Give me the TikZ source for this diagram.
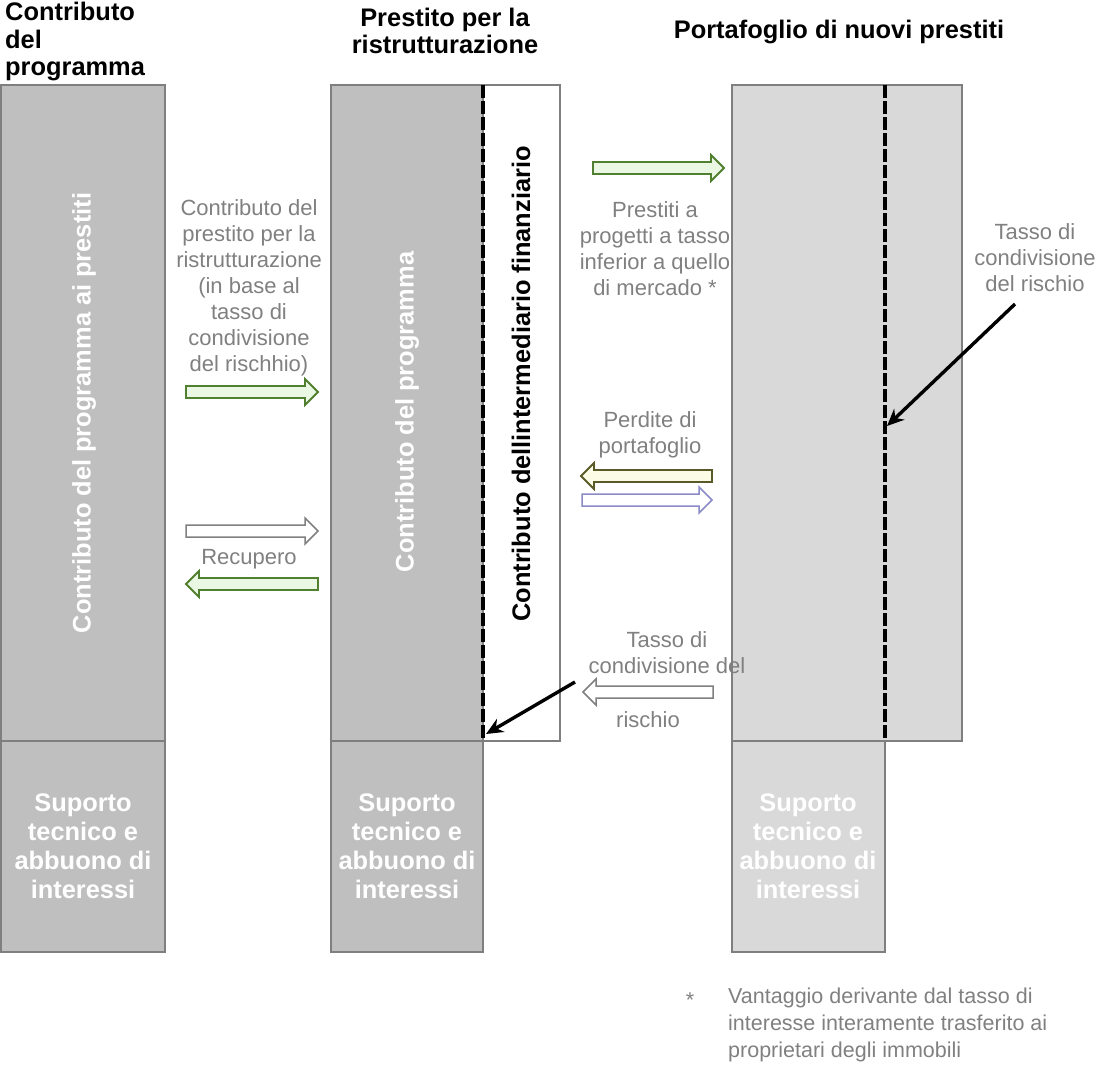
\documentclass[tikz,border=0pt]{standalone}
\usepackage{fontspec}
\setmainfont{Liberation Sans}
\usetikzlibrary{arrows.meta}
\definecolor{darkfill}{HTML}{BFBFBF}
\definecolor{lightfill}{HTML}{D9D9D9}
\definecolor{boxline}{HTML}{7F7F7F}
\definecolor{lblgray}{HTML}{808080}
\definecolor{arrgreen}{HTML}{4F7F2F}
\definecolor{arrgreenfill}{HTML}{EAF7E2}
\definecolor{arrolive}{HTML}{5A5A28}
\definecolor{arrolivefill}{HTML}{FBFBE6}
\definecolor{arrblue}{HTML}{8A8AC8}
\tikzset{
  colbox/.style={draw=boxline, line width=1.5pt, inner sep=0pt, outer sep=0pt, anchor=north west},
  darkbox/.style={colbox, fill=darkfill},
  lightbox/.style={colbox, fill=lightfill},
  whitebox/.style={colbox, fill=white},
  divider/.style={black, line width=3.2pt, dash pattern=on 13pt off 3pt},
  graylbl/.style={text=lblgray, align=center, inner sep=0pt, font=\fontsize{22}{26}\selectfont},
  titlelbl/.style={text=black, inner sep=0pt, font=\fontsize{25.4}{27.5}\selectfont\bfseries},
  vertlbl/.style={rotate=90, inner sep=0pt, font=\fontsize{25.4}{29}\selectfont\bfseries},
  baselbl/.style={text=white, align=center, inner sep=0pt, font=\fontsize{25.4}{29}\selectfont\bfseries},
  notelbl/.style={text=lblgray, align=left, inner sep=0pt, font=\fontsize{21.5}{27}\selectfont},
  greenarr/.style={draw=arrgreen, fill=arrgreenfill, line width=1.8pt, line join=miter},
  olivearr/.style={draw=arrolive, fill=arrolivefill, line width=1.8pt, line join=miter},
  bluearr/.style={draw=arrblue, fill=white, line width=1.5pt, line join=miter},
  whitearr/.style={draw=lblgray, fill=white, line width=1.5pt, line join=miter},
  pointer/.style={black, line width=3.4pt, -{Stealth[length=17pt,width=15pt]}},
}
% right-pointing block arrow: #1 style, #2 x start, #3 x end, #4 y
\newcommand\blockR[4]{\draw[#1] (#2,#4-6) -- (#3-13,#4-6) -- (#3-13,#4-13) -- (#3,#4) -- (#3-13,#4+13) -- (#3-13,#4+6) -- (#2,#4+6) -- cycle;}
% left-pointing block arrow: #1 style, #2 x tip, #3 x end, #4 y
\newcommand\blockL[4]{\draw[#1] (#3,#4-6) -- (#2+13,#4-6) -- (#2+13,#4-13) -- (#2,#4) -- (#2+13,#4+13) -- (#2+13,#4+6) -- (#3,#4+6) -- cycle;}
\begin{document}
\begin{tikzpicture}[x=1pt,y=-1pt]
\useasboundingbox (0,0) rectangle (1103,1065);

% column 1
\node[darkbox, minimum width=164pt, minimum height=656pt] (c1top) at (1,85) {};
\node[darkbox, minimum width=164pt, minimum height=211pt] (c1bot) at (1,741) {};
\node[vertlbl, text=white] (c1txt) at (84,413) {Contributo del programma ai prestiti};
\node[baselbl] (c1base) at (83,846) {Suporto\\tecnico e\\abbuono di\\interessi};

% column 2
\node[darkbox, minimum width=152pt, minimum height=656pt] (c2top) at (331,85) {};
\node[whitebox, minimum width=77pt, minimum height=656pt] (c2int) at (483,85) {};
\node[darkbox, minimum width=152pt, minimum height=211pt] (c2bot) at (331,741) {};
\draw[divider] (c2int.north west) -- (c2int.south west);
\node[vertlbl, text=white] (c2txt) at (407,412) {Contributo del programma};
\node[vertlbl, text=black] (c2int txt) at (521,384) {Contributo dellintermediario finanziario};
\node[baselbl] (c2base) at (407,846) {Suporto\\tecnico e\\abbuono di\\interessi};

% column 3
\node[lightbox, minimum width=230pt, minimum height=656pt] (c3top) at (732,85) {};
\node[lightbox, minimum width=153pt, minimum height=211pt] (c3bot) at (732,741) {};
\draw[divider] (885,85) coordinate (d3a) -- (885,741) coordinate (d3b);
\node[baselbl] (c3base) at (808,846) {Suporto\\tecnico e\\abbuono di\\interessi};

% titles
\node[titlelbl, align=left, anchor=north west] (t1) at (5,2) {Contributo\\del\\programma};
\node[titlelbl, align=center] (t2) at (445,31) {Prestito per la\\ristrutturazione};
\node[titlelbl] (t3) at (839,32) {Portafoglio di nuovi prestiti};

% labels between columns 1 and 2
\node[graylbl] (l1) at (249,288) {Contributo del\\prestito per la\\ristrutturazione\\(in base al\\tasso di\\condivisione\\del rischhio)};
\node[graylbl] (l2) at (249,559) {Recupero};
\blockR{greenarr}{186}{318}{392}
\blockR{whitearr}{186}{318}{531}
\blockL{greenarr}{186}{318}{584}

% labels between columns 2 and 3
\blockR{greenarr}{593}{724}{168}
\node[graylbl] (l3) at (655,249) {Prestiti a\\progetti a tasso\\inferior a quello\\di mercado *};
\node[graylbl] (l4) at (650,435) {Perdite di\\portafoglio};
\blockL{olivearr}{581}{712}{476}
\blockR{bluearr}{582}{712}{500}
\node[graylbl] (l5) at (667,653) {Tasso di\\condivisione del};
\blockL{whitearr}{583}{713}{692}
\node[graylbl] (l6) at (648,720) {rischio};
\coordinate (p1s) at (575,682);
\coordinate (p1e) at (486,734);
\draw[pointer] (p1s) -- (p1e);

% right label
\node[graylbl] (l7) at (1035,258) {Tasso di\\condivisione\\del rischio};
\coordinate (p2s) at (1015,304);
\coordinate (p2e) at (887,426);
\draw[pointer] (p2s) -- (p2e);

% footnote
\node[notelbl] (star) at (690,1000) {*};
\node[notelbl, anchor=west] (note) at (728,1025) {Vantaggio derivante dal tasso di\\interesse interamente trasferito ai\\proprietari degli immobili};
\end{tikzpicture}
\end{document}
